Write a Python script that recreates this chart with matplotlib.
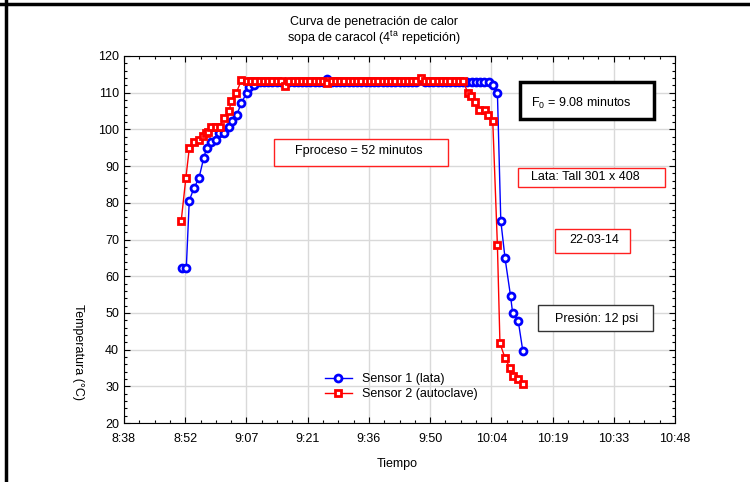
import matplotlib
matplotlib.use('Agg')
import matplotlib.pyplot as plt
from matplotlib.ticker import MultipleLocator, FixedLocator
from matplotlib.patches import Rectangle
from matplotlib.lines import Line2D

plt.rcParams['font.family'] = ['Liberation Sans', 'DejaVu Sans']
plt.rcParams['font.size'] = 9

# tiempo en minutos despues de las 8:38
t_lata = [13.6, 14.7, 15.4, 16.5, 17.7, 18.8, 19.5, 20.6, 21.7, 22.5, 23.6, 24.8,
          25.4, 26.6, 27.7, 29.0, 29.6, 30.6,
          32, 33, 34, 35, 36, 37, 38, 39, 40, 41, 42, 43, 44, 45, 46, 47, 48, 49,
          50, 51, 52, 53, 54, 55, 56, 57, 58, 59, 60, 61, 62, 63, 64, 65, 66, 67,
          68, 69, 70, 71, 72, 73, 74, 75, 76, 77, 78, 79, 80, 81, 82, 83, 84, 85, 86,
          87.1, 88.1, 88.9, 89.9, 91.2, 91.7, 93.0, 94.1]
temp_lata = [62.3, 62.3, 80.6, 84.0, 86.8, 92.2, 94.9, 96.5, 97.0, 99.1, 99.1, 100.6,
             102.4, 103.9, 107.3, 110.0, 111.5, 112.1,
             112.8, 113.0, 113.0, 113.0, 113.0, 113.0, 113.0, 113.0, 113.0, 113.0, 113.0, 113.0,
             113.0, 113.0, 113.0, 113.0, 113.6, 113.0, 113.0, 113.0, 113.0, 113.0, 113.0, 113.0,
             113.0, 113.0, 113.0, 113.0, 113.0, 113.0, 113.0, 113.0, 113.0, 113.0, 113.0, 113.0,
             113.0, 113.0, 113.5, 113.0, 113.0, 113.0, 113.0, 113.0, 113.0, 113.0, 113.0, 113.0,
             113.0, 113.0, 113.0, 113.0, 113.0, 113.0, 113.0,
             112.1, 110.0, 75.1, 64.9, 54.6, 49.9, 47.9, 39.6]

t_autoclave = [13.5, 14.6, 15.4, 16.5, 17.7, 18.7, 19.3, 19.8, 20.6, 21.7, 22.6, 23.5,
               24.8, 25.3, 26.5, 27.7,
               29, 30, 31, 32, 33, 34, 35, 36, 37, 38, 39, 40, 41, 42, 43, 44, 45, 46,
               47, 48, 49, 50, 51, 52, 53, 54, 55, 56, 57, 58, 59, 60, 61, 62, 63, 64,
               65, 66, 67, 68, 69, 70, 71, 72, 73, 74, 75, 76, 77, 78, 79, 80,
               81.1, 81.9, 82.7, 83.8, 85.2, 85.8, 87.0, 88.1, 88.7, 89.9, 91.1, 91.7,
               93.0, 94.1]
temp_autoclave = [75.1, 86.8, 94.8, 96.5, 97.1, 98.2, 98.9, 99.4, 100.6, 100.6, 100.6, 103.1,
                  105.1, 107.7, 110.0, 113.4,
                  113.3, 113.3, 113.3, 113.3, 113.3, 113.3, 113.3, 113.3, 113.3, 111.7, 113.3, 113.3,
                  113.3, 113.3, 113.3, 113.3, 113.3, 113.3, 113.3, 112.6, 113.3, 113.3, 113.3, 113.3,
                  113.3, 113.3, 113.3, 113.3, 113.3, 113.3, 113.3, 113.3, 113.3, 113.3, 113.3, 113.3,
                  113.3, 113.3, 113.3, 113.3, 113.3, 114.0, 113.3, 113.3, 113.3, 113.3, 113.3, 113.3,
                  113.3, 113.3, 113.3, 113.3,
                  110.0, 109.0, 107.4, 105.3, 105.4, 104.0, 102.4, 68.4, 41.7, 37.7, 34.9, 32.9,
                  32.1, 30.7]

x_ticks_lbl = ['8:38', '8:52', '9:07', '9:21', '9:36', '9:50', '10:04', '10:19', '10:33', '10:48']

W, H = 750, 482
fig = plt.figure(figsize=(7.5, 4.82), dpi=100)
ax = fig.add_axes([124 / W, 1 - 423 / H, 551 / W, 367 / H])

ax.plot(t_lata, temp_lata, color='#0000FF', lw=1, marker='o', ms=5, mfc='white',
        mec='#0000FF', mew=2, label='Sensor 1 (lata)', zorder=3)
ax.plot(t_autoclave, temp_autoclave, color='#FF0000', lw=1, marker='s', ms=5, mfc='white',
        mec='#FF0000', mew=2, label='Sensor 2 (autoclave)', zorder=4)

ax.set_xlim(0, 130)
ax.set_ylim(20, 120)
xt = [i * 130 / 9 for i in range(10)]
ax.xaxis.set_major_locator(FixedLocator(xt))
ax.set_xticklabels(x_ticks_lbl)
ax.xaxis.set_minor_locator(FixedLocator([i * 130 / 36 for i in range(37)]))
ax.yaxis.set_major_locator(MultipleLocator(10))
ax.yaxis.set_minor_locator(MultipleLocator(2))
ax.tick_params(which='both', direction='in', top=True, right=True, labelsize=9)
ax.tick_params(which='major', length=4, width=0.8)
ax.tick_params(which='minor', length=2, width=0.8)
ax.tick_params(axis='x', pad=7)
ax.grid(True, which='major', color='#d9d9d9', lw=1)
ax.set_axisbelow(True)
for s in ax.spines.values():
    s.set_linewidth(0.8)

ax.legend(loc='upper left', bbox_to_anchor=(0.355, 0.15), frameon=False, fontsize=9,
          handlelength=2.2, labelspacing=0.25, borderaxespad=0)

# titulos y etiquetas
fig.text(374 / W, 1 - 22 / H, 'Curva de penetración de calor', ha='center', va='center', fontsize=9)
fig.text(374 / W, 1 - 38 / H, 'sopa de caracol (4$^{\\mathregular{ta}}$ repetición)',
         ha='center', va='center', fontsize=9)
fig.text(78 / W, 1 - 352 / H, 'Temperatura (°C)', rotation=270, ha='center', va='center', fontsize=9)
fig.text(397 / W, 1 - 464 / H, 'Tiempo', ha='center', va='center', fontsize=9)

# cuadros de texto
cajas = [
    (274, 139, 448, 166, '#FF2020', 1.0, 'Fproceso = 52 minutos', 359, 151),
    (520, 82, 654, 119, 'black', 2.5, 'F$_{\\mathregular{0}}$ = 9.08 minutos', 581, 103),
    (518, 168, 665, 187, '#FF2020', 1.0, 'Lata: Tall 301 x 408', 585, 177),
    (555, 229, 630, 253, '#FF2020', 1.0, '22-03-14', 594, 240),
    (538, 305, 653, 331, '#333333', 1.0, 'Presión: 12 psi', 597, 319),
]
for x0, y0, x1, y1, col, lw, txt, tx, ty in cajas:
    fig.patches.append(Rectangle((x0 / W, 1 - y1 / H), (x1 - x0) / W, (y1 - y0) / H,
                                 transform=fig.transFigure, fill=True, facecolor='white',
                                 edgecolor=col, lw=lw, zorder=5))
    fig.text(tx / W, 1 - ty / H, txt, ha='center', va='center', fontsize=9, zorder=6)

# marco exterior
fig.lines.append(Line2D([0, 1], [1 - 4 / H, 1 - 4 / H], transform=fig.transFigure, color='black', lw=2.5))
fig.lines.append(Line2D([6 / W, 6 / W], [0, 1], transform=fig.transFigure, color='black', lw=2.5))

fig.savefig('out.png', dpi=100)
